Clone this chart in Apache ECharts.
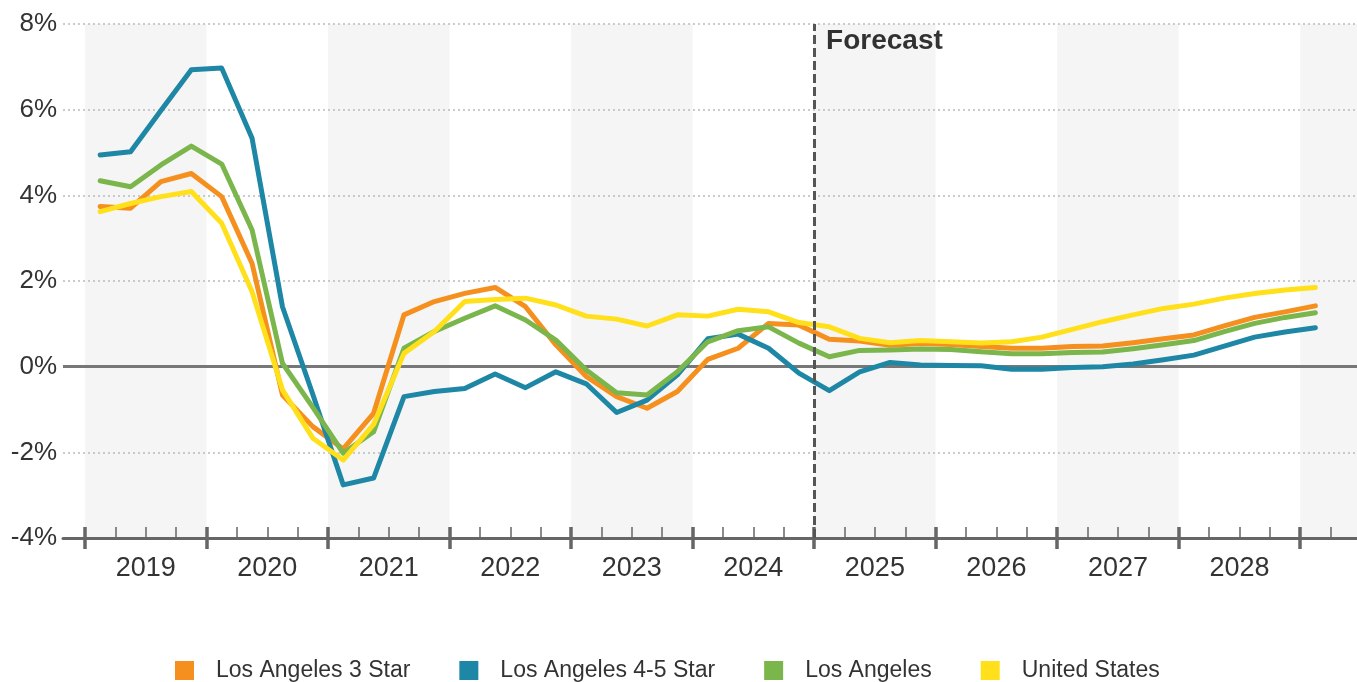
<!DOCTYPE html>
<html>
<head>
<meta charset="utf-8">
<script src="https://cdn.jsdelivr.net/npm/echarts@6.0.0/dist/echarts.min.js"></script>
<style>
  html, body { margin: 0; padding: 0; background: #fff; }
  #chart { width: 1357px; height: 682px; }
</style>
</head>
<body>
<div id="chart"></div>
<script>
// Quarterly rent growth, year over year (%), 2019 Q1 to 2029 Q1
const years = ['2019', '2020', '2021', '2022', '2023', '2024', '2025', '2026', '2027', '2028'];
const quarters = [
  '2019 Q1', '2019 Q2', '2019 Q3', '2019 Q4', '2020 Q1', '2020 Q2', '2020 Q3', '2020 Q4',
  '2021 Q1', '2021 Q2', '2021 Q3', '2021 Q4', '2022 Q1', '2022 Q2', '2022 Q3', '2022 Q4',
  '2023 Q1', '2023 Q2', '2023 Q3', '2023 Q4', '2024 Q1', '2024 Q2', '2024 Q3', '2024 Q4',
  '2025 Q1', '2025 Q2', '2025 Q3', '2025 Q4', '2026 Q1', '2026 Q2', '2026 Q3', '2026 Q4',
  '2027 Q1', '2027 Q2', '2027 Q3', '2027 Q4', '2028 Q1', '2028 Q2', '2028 Q3', '2028 Q4',
  '2029 Q1'
];
const yTicks = [-4, -2, 0, 2, 4, 6, 8];
const forecastStart = '2025 Q1';

const la3Star = [3.74, 3.70, 4.32, 4.51, 3.97, 2.41, -0.66, -1.40, -1.92, -1.09,
  1.21, 1.52, 1.71, 1.85, 1.40, 0.51, -0.23, -0.70, -0.97, -0.58, 0.17, 0.43, 1.01, 0.97,
  0.64, 0.60, 0.50, 0.54, 0.52, 0.47, 0.43, 0.43, 0.47, 0.48, 0.56, 0.65, 0.74, 0.95, 1.15, 1.28, 1.42];
const la45Star = [4.94, 5.02, 5.98, 6.93, 6.97, 5.33, 1.40, -0.65, -2.76, -2.60,
  -0.70, -0.58, -0.51, -0.17, -0.49, -0.12, -0.40, -1.07, -0.78, -0.19, 0.65, 0.76, 0.43, -0.15,
  -0.56, -0.12, 0.10, 0.04, 0.03, 0.02, -0.06, -0.06, -0.02, 0.00, 0.06, 0.16, 0.27, 0.48, 0.69, 0.81, 0.91];
const losAngeles = [4.34, 4.20, 4.71, 5.15, 4.73, 3.19, 0.08, -0.95, -2.02, -1.52,
  0.43, 0.82, 1.13, 1.42, 1.09, 0.62, -0.08, -0.61, -0.66, -0.12, 0.58, 0.84, 0.93, 0.55,
  0.23, 0.38, 0.39, 0.41, 0.40, 0.35, 0.30, 0.30, 0.33, 0.34, 0.42, 0.51, 0.61, 0.82, 1.01, 1.15, 1.26];
const unitedStates = [3.62, 3.81, 3.97, 4.09, 3.35, 1.75, -0.54, -1.67, -2.18, -1.35,
  0.31, 0.82, 1.52, 1.57, 1.60, 1.44, 1.18, 1.11, 0.95, 1.21, 1.18, 1.34, 1.28, 1.03,
  0.93, 0.66, 0.56, 0.61, 0.58, 0.55, 0.58, 0.69, 0.87, 1.05, 1.21, 1.36, 1.46, 1.60, 1.71, 1.79, 1.85];

const seriesDefs = [
  { name: 'Los Angeles 3 Star', values: la3Star, color: '#F5901F' },
  { name: 'Los Angeles 4-5 Star', values: la45Star, color: '#1F87A6' },
  { name: 'Los Angeles', values: losAngeles, color: '#7AB64B' },
  { name: 'United States', values: unitedStates, color: '#FFE01B' }
];

// x is the quarter index; each year spans [4k - 0.5, 4k + 3.5]
const xMin = -1.224;
const xMax = 41.37;
const yearEdges = [];
for (let k = 0; k <= years.length; k++) yearEdges.push(4 * k - 0.5);
const quarterEdges = [];
for (let q = 0; q <= quarters.length; q++) if (q % 4 !== 0) quarterEdges.push(q - 0.5);
quarterEdges.push(quarters.length + 0.5);
const yearCenters = years.map((y, k) => 4 * k + 1.5);

// alternating shaded years (2019, 2021, ... 2029)
const bands = [];
for (let k = 0; k <= years.length; k += 2) {
  bands.push([{ xAxis: 4 * k - 0.5 }, { xAxis: Math.min(4 * k + 3.5, xMax) }]);
}
const forecastX = quarters.indexOf(forecastStart) - 0.5;

const FONT = '"Liberation Sans", Arial, sans-serif';
const axisBase = {
  type: 'value', min: xMin, max: xMax, position: 'bottom', offset: 0,
  splitLine: { show: false }, z: 3
};

const option = {
  animation: false,
  backgroundColor: '#ffffff',
  textStyle: { fontFamily: FONT },
  grid: { left: 63, right: 0, top: 24, bottom: 144 },
  xAxis: [
    Object.assign({}, axisBase, {
      axisLine: { show: true, onZero: false, lineStyle: { color: '#666', width: 3 } },
      axisTick: { show: true, inside: false, length: 11, customValues: yearEdges,
        lineStyle: { color: '#666', width: 3.5 } },
      axisLabel: { show: true, customValues: yearCenters, margin: 17,
        fontSize: 27, color: '#333', fontFamily: FONT,
        formatter: v => years[Math.round((v - 1.5) / 4)] }
    }),
    Object.assign({}, axisBase, {
      axisLine: { show: false, onZero: false },
      axisTick: { show: true, inside: true, length: 11, customValues: yearEdges,
        lineStyle: { color: '#666', width: 3.5 } },
      axisLabel: { show: false }
    }),
    Object.assign({}, axisBase, {
      axisLine: { show: false, onZero: false },
      axisTick: { show: true, inside: true, length: 11, customValues: quarterEdges,
        lineStyle: { color: '#666', width: 1.5 } },
      axisLabel: { show: false }
    })
  ],
  yAxis: {
    type: 'value', min: yTicks[0], max: yTicks[yTicks.length - 1], interval: 2, z: 1.5,
    axisLine: { show: false },
    axisTick: { show: false },
    axisLabel: { margin: 6, fontSize: 26, color: '#333', fontFamily: FONT, formatter: '{value}%' },
    splitLine: { show: true, lineStyle: { color: '#bbb', width: 1.5, type: [2, 3] } }
  },
  legend: {
    data: seriesDefs.map(s => s.name),
    left: 170, top: 654,
    icon: 'rect', itemWidth: 19, itemHeight: 19, itemGap: 49,
    textStyle: { fontSize: 23, color: '#333', fontFamily: FONT, padding: [0, 0, 0, 17] }
  },
  series: [
    {
      name: 'bands', type: 'line', data: [], silent: true, z: 1,
      markArea: { silent: true, z: 1, itemStyle: { color: '#f5f5f5' }, data: bands }
    },
    {
      name: 'zero', type: 'line', data: [], silent: true, z: 2,
      markLine: {
        silent: true, symbol: 'none', z: 2, label: { show: false },
        lineStyle: { color: '#777', width: 3, type: 'solid' },
        data: [{ yAxis: 0 }]
      }
    }
  ].concat(seriesDefs.map(s => ({
    name: s.name, type: 'line', z: 3,
    data: s.values.map((v, i) => [i, v]),
    showSymbol: false, symbol: 'none',
    lineStyle: { color: s.color, width: 5, cap: 'round', join: 'round' },
    itemStyle: { color: s.color }
  }))).concat([
    {
      name: 'forecast', type: 'scatter', z: 6, silent: true,
      data: [[forecastX, yTicks[yTicks.length - 1]]],
      symbolSize: 0,
      label: {
        show: true, position: 'right', offset: [7, 17], formatter: 'Forecast',
        fontSize: 28, fontWeight: 'bold', color: '#000', fontFamily: FONT
      },
      markLine: {
        silent: true, symbol: 'none', z: 6, label: { show: false },
        lineStyle: { color: '#555', width: 3, type: [9, 4] },
        data: [{ xAxis: forecastX }]
      }
    }
  ])
};

const chart = echarts.init(document.getElementById('chart'), null, { renderer: 'canvas' });
chart.setOption(option);
</script>
</body>
</html>
